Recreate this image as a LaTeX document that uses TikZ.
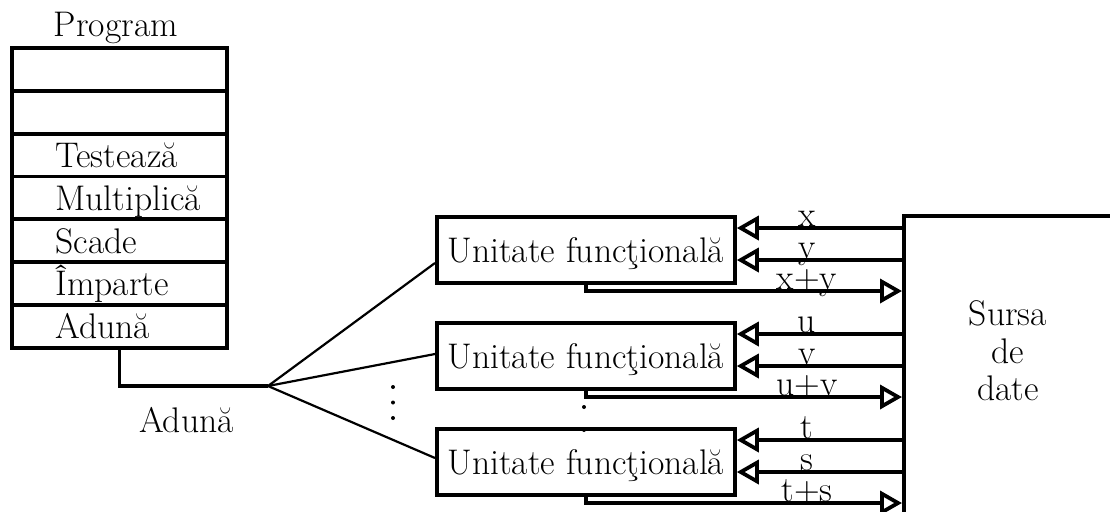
\documentclass[tikz,border=0pt]{standalone}
\usepackage{fontspec}
\usetikzlibrary{arrows.meta}
\begin{document}
\begin{tikzpicture}[x=0.5pt,y=-0.5pt,
  every node/.style={font=\fontsize{17.8}{18.8}\selectfont},
  wire/.style={line width=1.9pt},
  fanline/.style={line width=1.1pt},
  prow/.style={draw, line width=1.9pt, minimum width=107.5pt, minimum height=21.43pt, inner sep=0pt, anchor=north west},
  unit/.style={draw, line width=1.9pt, fill=white, minimum width=149pt, minimum height=33pt, inner sep=0pt, text depth=0pt, anchor=north west},
  tipo/.style={-{Triangle[open, length=11pt, width=12pt]}},
  sig/.style={anchor=base, inner sep=0pt},
  dotm/.style={fill=black, draw=none, circle, inner sep=0pt, minimum size=2pt}]
\useasboundingbox (0,0) rectangle (1110,511);
\clip (0,0) rectangle (1110,511);

% Program
\node[anchor=base, inner sep=0pt] (prog) at (116,36) {Program};
\foreach \i in {0,...,6} \node[prow] (r\i) at (10,{46+42.857*\i}) {};
\foreach \i/\t in {2/Testează, 3/Multiplică, 4/Scade, 5/Împarte, 6/Adună}
  \node[anchor=base west, inner sep=0pt] (t\i) at ([xshift=22.5pt,yshift=5.5pt]r\i.south west) {\t};

% fan
\coordinate (fan) at (268,386);
\draw[wire] (r6.south) |- (fan);
\node[sig] (addlbl) at (186.5,432) {Adună};

% units
\node[unit] (u1) at (435,215) {Unitate funcţională};
\node[unit] (u2) at (435,321) {Unitate funcţională};
\node[unit] (u3) at (435,427) {Unitate funcţională};

\draw[fanline] (fan) -- (u1.west |- 0,263);
\draw[fanline] (fan) -- (u2.west |- 0,354);
\draw[fanline] (fan) -- (u3.west |- 0,458);

% dots
\node[dotm] (dl1) at (393,387) {};
\node[dotm] (dl2) at (393,402.5) {};
\node[dotm] (dl3) at (393,418) {};
\node[dotm] (dr1) at (584,407) {};
\node[dotm] (dr2) at (584,430) {};

% source
\node[draw, line width=1.9pt, anchor=north west, minimum width=150pt, minimum height=200pt, inner sep=0pt] (src) at (902,214) {};
\node[align=center, inner sep=0pt] (srctext) at (1008,351) {Sursa\\de\\date};

% arrows unit 1
\draw[wire,tipo] (src.west |- 0,228) -- (u1.east |- 0,228);
\draw[wire,tipo] (src.west |- 0,260) -- (u1.east |- 0,260);
\draw[wire,tipo] (u1.south) |- (src.west |- 0,291);
\node[sig] (l1) at (807,226.5) {x};
\node[sig] (l2) at (807,258.5) {y};
\node[sig] (l3) at (807,289.5) {x+y};

% arrows unit 2
\draw[wire,tipo] (src.west |- 0,334) -- (u2.east |- 0,334);
\draw[wire,tipo] (src.west |- 0,366) -- (u2.east |- 0,366);
\draw[wire,tipo] (u2.south) |- (src.west |- 0,397);
\node[sig] (l4) at (807,332.5) {u};
\node[sig] (l5) at (807,364.5) {v};
\node[sig] (l6) at (807,395.5) {u+v};

% arrows unit 3
\draw[wire,tipo] (src.west |- 0,440) -- (u3.east |- 0,440);
\draw[wire,tipo] (src.west |- 0,472) -- (u3.east |- 0,472);
\draw[wire,tipo] (u3.south) |- (src.west |- 0,503);
\node[sig] (l7) at (807,438.5) {t};
\node[sig] (l8) at (807,470.5) {s};
\node[sig] (l9) at (807,501.5) {t+s};
\end{tikzpicture}
\end{document}
